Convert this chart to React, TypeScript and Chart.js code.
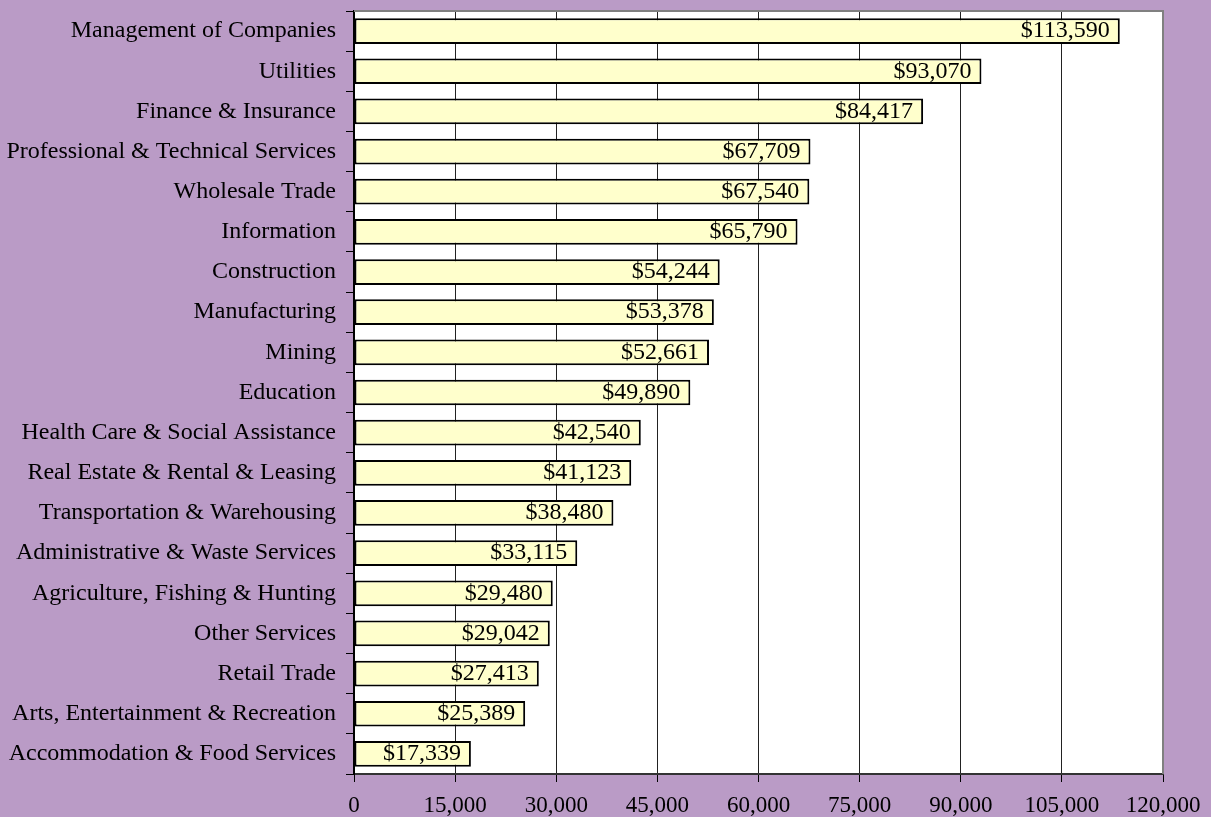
import React, { useEffect, useRef } from "react";
import { Chart, registerables } from "chart.js";

Chart.register(...registerables);

const categories: string[] = [
  "Management of Companies",
  "Utilities",
  "Finance & Insurance",
  "Professional & Technical Services",
  "Wholesale Trade",
  "Information",
  "Construction",
  "Manufacturing",
  "Mining",
  "Education",
  "Health Care & Social Assistance",
  "Real Estate & Rental & Leasing",
  "Transportation & Warehousing",
  "Administrative & Waste Services",
  "Agriculture, Fishing & Hunting",
  "Other Services",
  "Retail Trade",
  "Arts, Entertainment & Recreation",
  "Accommodation & Food Services",
];

const wages: number[] = [
  113590, 93070, 84417, 67709, 67540, 65790, 54244, 53378, 52661, 49890,
  42540, 41123, 38480, 33115, 29480, 29042, 27413, 25389, 17339,
];

const xMin = 0;
const xMax = 120000;
const xStep = 15000;

const FONT = "'Times New Roman', 'Liberation Serif', serif";
const BG = "#BA9BC6";

export default function App() {
  const ref = useRef<HTMLCanvasElement | null>(null);

  useEffect(() => {
    if (!ref.current) return;
    const bgPlugin = {
      id: "bg",
      beforeDraw(chart: any) {
        const { ctx, chartArea } = chart;
        ctx.save();
        ctx.fillStyle = BG;
        ctx.fillRect(0, 0, chart.width, chart.height);
        ctx.fillStyle = "#FFFFFF";
        ctx.fillRect(chartArea.left, chartArea.top, chartArea.right - chartArea.left, chartArea.bottom - chartArea.top);
        ctx.restore();
      },
      afterDraw(chart: any) {
        const { ctx, chartArea } = chart;
        ctx.save();
        ctx.strokeStyle = "#808080";
        ctx.lineWidth = 2;
        ctx.beginPath();
        ctx.moveTo(chartArea.left, chartArea.top);
        ctx.lineTo(chartArea.right, chartArea.top);
        ctx.lineTo(chartArea.right, chartArea.bottom);
        ctx.stroke();
        ctx.restore();
      },
    };
    const labelPlugin = {
      id: "valueLabels",
      afterDatasetsDraw(chart: any) {
        const { ctx } = chart;
        const meta = chart.getDatasetMeta(0);
        ctx.save();
        ctx.font = `24px ${FONT}`;
        ctx.fillStyle = "#000";
        ctx.textAlign = "right";
        ctx.textBaseline = "middle";
        meta.data.forEach((bar: any, i: number) => {
          const v = wages[i];
          ctx.fillText("$" + v.toLocaleString("en-US"), bar.x - 10, bar.y);
        });
        ctx.restore();
      },
    };
    const chart = new Chart(ref.current, {
      type: "bar",
      data: {
        labels: categories,
        datasets: [
          {
            data: wages,
            backgroundColor: "#FFFFCC",
            borderColor: "#000000",
            borderWidth: 2,
            borderSkipped: false,
            barPercentage: 0.64,
            categoryPercentage: 1,
          },
        ],
      },
      options: {
        indexAxis: "y",
        responsive: false,
        animation: false,
        layout: { padding: { top: 11, right: 48, left: 0, bottom: 0 } },
        plugins: {
          legend: { display: false },
          tooltip: { enabled: false },
        },
        scales: {
          x: {
            min: xMin,
            max: xMax,
            ticks: {
              stepSize: xStep,
              color: "#000",
              font: { family: FONT, size: 23 },
              padding: 10,
              maxRotation: 0,
            },
            grid: {
              color: "#222222",
              lineWidth: 1,
              tickLength: 8,
              tickColor: "#000",
            },
            border: { color: "#333333", width: 2 },
            afterFit(scale: any) {
              scale.height = 43;
              scale.paddingLeft = 0;
              scale.paddingRight = 0;
            },
          },
          y: {
            ticks: {
              color: "#000",
              font: { family: FONT, size: 24 },
              padding: 10,
              autoSkip: false,
            },
            grid: {
              offset: true,
              drawOnChartArea: false,
              tickLength: 8,
              tickColor: "#000",
            },
            border: { color: "#000", width: 2 },
            afterFit(scale: any) {
              scale.width = 354;
              scale.paddingTop = 0;
              scale.paddingBottom = 0;
            },
          },
        },
      },
      plugins: [bgPlugin, labelPlugin],
    });
    return () => chart.destroy();
  }, []);

  return (
    <div style={{ position: "fixed", left: 0, top: 0, width: 1211, height: 817, background: BG }}>
      <canvas ref={ref} width={1211} height={817} style={{ display: "block" }} />
    </div>
  );
}
